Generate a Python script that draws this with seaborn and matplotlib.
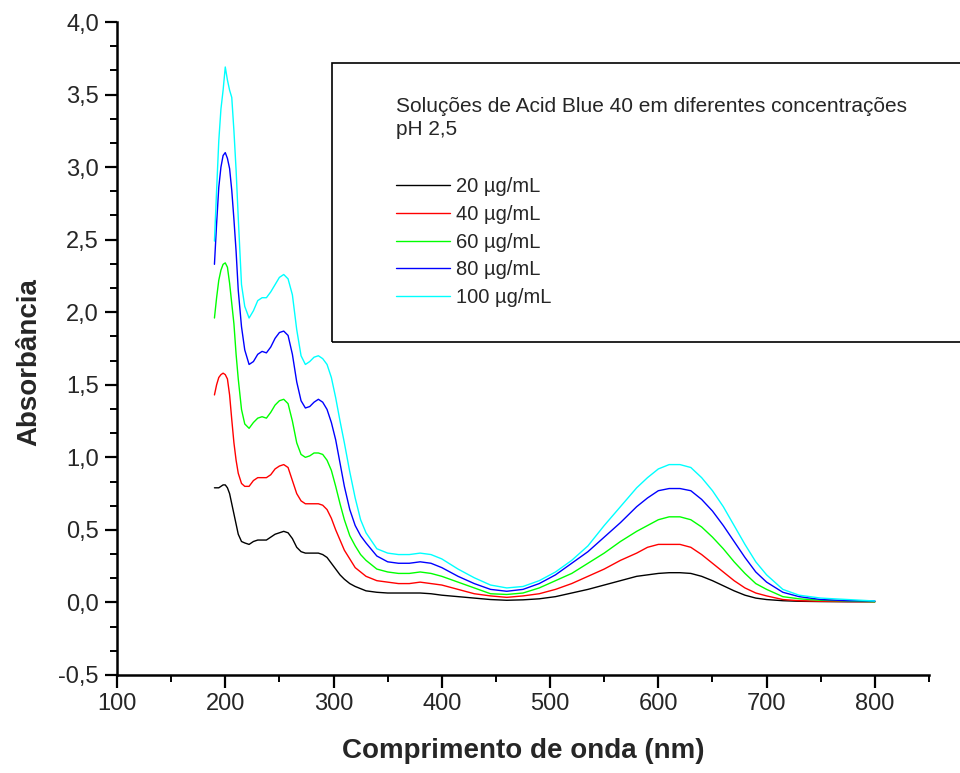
import numpy as np
import pandas as pd
import matplotlib
matplotlib.use("Agg")
import matplotlib.pyplot as plt
from matplotlib.ticker import MultipleLocator, AutoMinorLocator, FuncFormatter
from matplotlib.patches import Rectangle
import seaborn as sns

# ---------------- data ----------------
wavelength = [190, 192, 194, 196, 198, 200, 202, 204, 206, 208, 210, 212, 215, 218, 222, 226,
              230, 234, 238, 242, 246, 250, 254, 258, 262, 266, 270, 274, 278, 282, 286, 290,
              294, 298, 302, 306, 310, 315, 320, 325, 330, 340, 350, 360, 370, 380, 390, 400,
              415, 430, 445, 460, 475, 490, 505, 520, 535, 550, 565, 580, 590, 600, 610, 620,
              630, 640, 650, 660, 670, 680, 690, 700, 715, 730, 750, 775, 800]

abs_20 = [0.79, 0.79, 0.79, 0.80, 0.81, 0.81, 0.79, 0.75, 0.68, 0.61, 0.54, 0.47, 0.42, 0.41, 0.40, 0.42,
          0.43, 0.43, 0.43, 0.45, 0.47, 0.48, 0.49, 0.48, 0.44, 0.38, 0.35, 0.34, 0.34, 0.34, 0.34, 0.33,
          0.31, 0.27, 0.23, 0.19, 0.16, 0.13, 0.11, 0.095, 0.08, 0.07, 0.065, 0.065, 0.065, 0.065, 0.06, 0.05,
          0.04, 0.03, 0.02, 0.015, 0.018, 0.025, 0.04, 0.065, 0.09, 0.12, 0.15, 0.18, 0.19, 0.20, 0.205, 0.205,
          0.20, 0.18, 0.15, 0.115, 0.08, 0.05, 0.03, 0.02, 0.012, 0.008, 0.006, 0.005, 0.005]

abs_40 = [1.43, 1.50, 1.55, 1.57, 1.58, 1.57, 1.54, 1.43, 1.26, 1.10, 0.98, 0.89, 0.82, 0.80, 0.80, 0.84,
          0.86, 0.86, 0.86, 0.88, 0.92, 0.94, 0.95, 0.93, 0.84, 0.75, 0.70, 0.68, 0.68, 0.68, 0.68, 0.67,
          0.64, 0.58, 0.50, 0.43, 0.36, 0.30, 0.24, 0.21, 0.18, 0.15, 0.14, 0.13, 0.13, 0.14, 0.13, 0.12,
          0.09, 0.06, 0.045, 0.035, 0.045, 0.06, 0.09, 0.13, 0.18, 0.23, 0.29, 0.34, 0.38, 0.40, 0.40, 0.40,
          0.38, 0.33, 0.27, 0.21, 0.15, 0.10, 0.065, 0.045, 0.02, 0.012, 0.008, 0.006, 0.005]

abs_60 = [1.96, 2.10, 2.22, 2.29, 2.33, 2.34, 2.31, 2.20, 2.06, 1.92, 1.71, 1.54, 1.33, 1.23, 1.20, 1.24,
          1.27, 1.28, 1.27, 1.31, 1.36, 1.39, 1.40, 1.37, 1.25, 1.10, 1.02, 1.00, 1.01, 1.03, 1.03, 1.02,
          0.98, 0.91, 0.80, 0.68, 0.57, 0.46, 0.39, 0.33, 0.29, 0.23, 0.21, 0.20, 0.20, 0.21, 0.20, 0.18,
          0.14, 0.10, 0.06, 0.055, 0.065, 0.10, 0.15, 0.20, 0.27, 0.34, 0.42, 0.49, 0.53, 0.57, 0.59, 0.59,
          0.57, 0.52, 0.45, 0.37, 0.28, 0.20, 0.13, 0.09, 0.04, 0.025, 0.015, 0.01, 0.005]

abs_80 = [2.33, 2.61, 2.86, 3.00, 3.08, 3.10, 3.06, 2.99, 2.84, 2.64, 2.42, 2.15, 1.90, 1.74, 1.64, 1.66,
          1.71, 1.73, 1.72, 1.76, 1.82, 1.86, 1.87, 1.84, 1.71, 1.52, 1.39, 1.34, 1.35, 1.38, 1.40, 1.38,
          1.33, 1.24, 1.12, 0.96, 0.80, 0.64, 0.53, 0.46, 0.41, 0.32, 0.28, 0.27, 0.27, 0.28, 0.27, 0.24,
          0.18, 0.13, 0.09, 0.077, 0.09, 0.13, 0.19, 0.27, 0.35, 0.45, 0.55, 0.66, 0.72, 0.77, 0.785, 0.785,
          0.77, 0.71, 0.63, 0.53, 0.42, 0.31, 0.21, 0.14, 0.07, 0.04, 0.02, 0.012, 0.01]

abs_100 = [2.49, 2.84, 3.18, 3.40, 3.53, 3.69, 3.60, 3.53, 3.48, 3.25, 2.98, 2.65, 2.19, 2.04, 1.96, 2.01,
           2.08, 2.10, 2.10, 2.14, 2.19, 2.24, 2.26, 2.23, 2.12, 1.88, 1.70, 1.64, 1.66, 1.69, 1.70, 1.68,
           1.64, 1.55, 1.41, 1.25, 1.10, 0.90, 0.72, 0.57, 0.48, 0.37, 0.34, 0.33, 0.33, 0.34, 0.33, 0.30,
           0.23, 0.17, 0.12, 0.10, 0.11, 0.15, 0.21, 0.29, 0.39, 0.53, 0.66, 0.79, 0.86, 0.92, 0.95, 0.95,
           0.93, 0.86, 0.77, 0.66, 0.53, 0.40, 0.28, 0.19, 0.09, 0.05, 0.03, 0.02, 0.01]

series_labels = ["20 µg/mL", "40 µg/mL", "60 µg/mL", "80 µg/mL", "100 µg/mL"]
series_colors = ["#000000", "#FF0000", "#00FF00", "#0000FF", "#00FFFF"]
legend_title = "Soluções de Acid Blue 40 em diferentes concentrações\npH 2,5"
x_label = "Comprimento de onda (nm)"
y_label = "Absorbância"

# -------------- long-form table --------------
all_series = [abs_20, abs_40, abs_60, abs_80, abs_100]
frames = []
for lab, vals in zip(series_labels, all_series):
    frames.append(pd.DataFrame({"wl": wavelength, "A": vals, "conc": lab}))
df = pd.concat(frames, ignore_index=True)

# -------------- plot --------------
sns.set_style("ticks")
plt.rcParams["font.family"] = ["Liberation Sans", "DejaVu Sans"]

fig = plt.figure(figsize=(9.6, 7.73), dpi=100)
ax = fig.add_axes([117 / 960, 1 - 675 / 773, (929 - 117) / 960, (675 - 22) / 773])

sns.lineplot(data=df, x="wl", y="A", hue="conc", hue_order=series_labels,
             palette=series_colors, linewidth=1.0, ax=ax, legend=True,
             estimator=None, sort=True)

ax.set_xlim(100, 850)
ax.set_ylim(-0.5, 4.0)
ax.xaxis.set_major_locator(MultipleLocator(100))
ax.xaxis.set_minor_locator(MultipleLocator(50))
ax.yaxis.set_major_locator(MultipleLocator(0.5))
ax.yaxis.set_minor_locator(AutoMinorLocator(3))
ax.yaxis.set_major_formatter(FuncFormatter(lambda v, p: f"{v:.1f}".replace(".", ",")))
ax.xaxis.set_major_formatter(FuncFormatter(lambda v, p: f"{v:.0f}" if v <= 800 else ""))

for s in ["top", "right"]:
    ax.spines[s].set_visible(False)
for s in ["left", "bottom"]:
    ax.spines[s].set_linewidth(1.8)
    ax.spines[s].set_color("black")

ax.tick_params(which="major", direction="out", length=9, width=1.6, labelsize=17, pad=4, color="black")
ax.tick_params(which="minor", direction="out", length=5, width=1.4, color="black")

ax.set_xlabel(x_label, fontsize=20, fontweight="bold")
ax.set_ylabel(y_label, fontsize=20, fontweight="bold")
ax.xaxis.set_label_coords(0.5, -0.097)
ax.yaxis.set_label_coords(-0.092, 0.479)

# legend box (extends past right edge of figure)
box = Rectangle((332 / 960, 1 - 342 / 773), (962 - 332) / 960, (342 - 63) / 773,
                transform=fig.transFigure, fill=False, edgecolor="black", linewidth=1.2,
                clip_on=False)
fig.patches.append(box)

fig.text(396 / 960, 1 - 118 / 773, legend_title, fontsize=15, va="center", ha="left",
         linespacing=1.25)

handles, labels = ax.get_legend_handles_labels()
leg = ax.legend(handles, labels, loc="upper left", bbox_to_anchor=(396 / 960, 1 - 177.5 / 773),
                bbox_transform=fig.transFigure, frameon=False, fontsize=14.5,
                handlelength=2.7, handletextpad=0.3, labelspacing=0.43, borderpad=0.0,
                borderaxespad=0.0)
for h in leg.get_lines():
    h.set_linewidth(1.0)

fig.savefig("out.png", dpi=100)
